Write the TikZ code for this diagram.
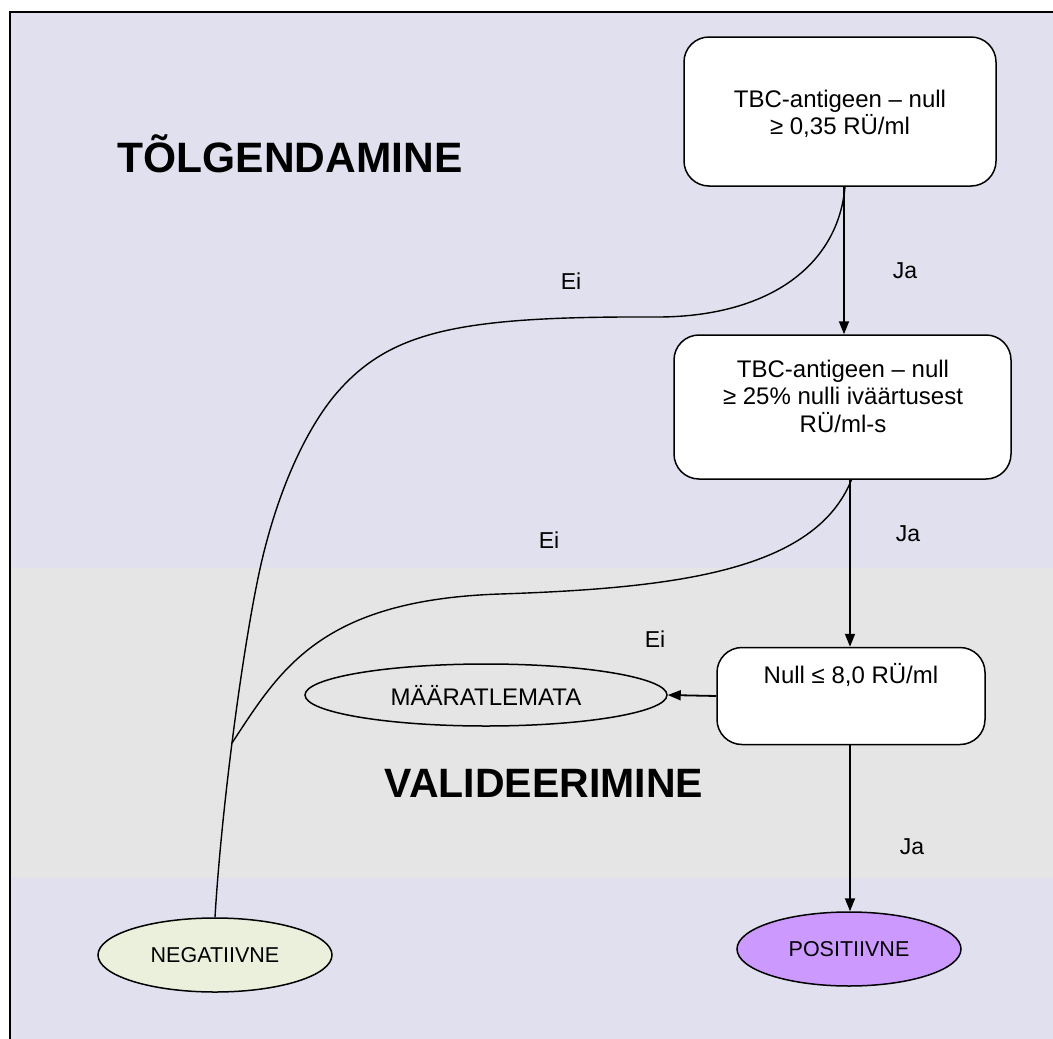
\documentclass[tikz,border=0pt]{standalone}
\usepackage{fontspec}
\setmainfont{Liberation Sans}
\usetikzlibrary{arrows.meta,shapes.geometric}
\definecolor{lav}{RGB}{224,224,238}
\definecolor{band}{RGB}{229,229,229}
\definecolor{negfill}{RGB}{235,240,220}
\definecolor{posfill}{RGB}{204,153,255}
\tikzset{
  box/.style={draw=black, fill=white, line width=1.5pt, rounded corners=25pt, inner sep=0pt},
  boxtxt/.style={align=center, font=\fontsize{24}{27.5}\selectfont, inner sep=0pt},
  oval/.style={draw=black, ellipse, line width=1.5pt, inner sep=0pt, font=\fontsize{21.5}{25}\selectfont},
  arr/.style={line width=1.8pt, -{Triangle[length=13pt,width=10pt]}},
  con/.style={line width=1.4pt},
  lbl/.style={font=\fontsize{23}{27}\selectfont, inner sep=0pt, anchor=base},
  ttl/.style={font=\fontsize{42.5}{48}\selectfont\bfseries, inner sep=0pt, anchor=base}
}
\begin{document}
\begin{tikzpicture}[x=1pt,y=-1pt]
\useasboundingbox (0,0) rectangle (1053,1039);
\fill[lav] (10,12) rectangle (1053,1039);
\fill[band] (10,568) rectangle (1053,878);
\draw[line width=2.5pt] (10,1045) -- (10,12) -- (1060,12);

% titles
\node[ttl] (t1) at (290,172) {TÕLGENDAMINE};
\node[ttl, font=\fontsize{41}{48}\selectfont\bfseries] (t2) at (544,797) {VALIDEERIMINE};

% boxes
\node[box, minimum width=312pt, minimum height=149pt] (b1) at (840,111.5) {};
\node[boxtxt] (b1t) at (840,114) {TBC-antigeen – null\\≥ 0,35 RÜ/ml};
\node[box, minimum width=337pt, minimum height=144pt] (b2) at (842.5,407) {};
\node[boxtxt] (b2t) at (843,396) {TBC-antigeen – null\\ ≥ 25\% nulli iväärtusest\\RÜ/ml-s};
\node[box, minimum width=268pt, minimum height=97pt] (b3) at (851,696) {};
\node[boxtxt, anchor=base] (b3t) at (851,683) {Null ≤ 8,0 RÜ/ml};

% ellipses
\node[oval, fill=band, minimum width=362pt, minimum height=62pt] (maar) at (486,695) {\fontsize{24}{28}\selectfont MÄÄRATLEMATA};
\node[oval, fill=negfill, minimum width=234pt, minimum height=74pt] (neg) at (215,955) {NEGATIIVNE};
\node[oval, fill=posfill, minimum width=224pt, minimum height=74pt] (pos) at (849,949) {POSITIIVNE};

% arrows
\draw[arr] ([xshift=4pt]b1.south) -- ([xshift=4pt]b1.south |- b2.north);
\draw[arr] ([xshift=7.5pt]b2.south) -- ([xshift=7.5pt]b2.south |- b3.north);
\draw[arr] ([xshift=-1pt]b3.south) -- ([xshift=-1pt]b3.south |- pos.north);
\draw[arr] (b3.west) -- (maar.east);

% curves
\coordinate (m) at (232,743);
\draw[con] ([xshift=5pt]b1.south) .. controls (838,265) and (770,316) .. (660,317)
  .. controls (460,316) and (390,330) .. (335,395)
  .. controls (310,425) and (281,480) .. (262,560)
  .. controls (245,632) and (222,800) .. (neg.north);
\draw[con] ([xshift=9pt]b2.south) .. controls (815,570) and (680,588) .. (500,594)
  .. controls (320,600) and (280,670) .. (m);

% labels
\node[lbl] (ja1) at (905,278) {Ja};
\node[lbl] (ei1) at (571,289) {Ei};
\node[lbl] (ja2) at (908,541) {Ja};
\node[lbl] (ei2) at (549,548) {Ei};
\node[lbl] (ei3) at (655,647) {Ei};
\node[lbl] (ja3) at (912,854) {Ja};
\end{tikzpicture}
\end{document}
